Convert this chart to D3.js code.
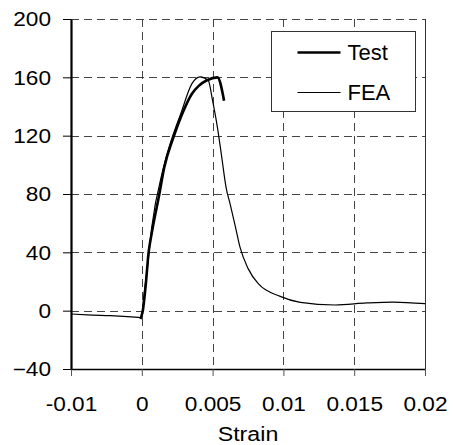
<!DOCTYPE html>
<html lang="en">
<head>
  <meta charset="utf-8">
  <title>Strain chart</title>
  <style>
    body { margin: 0; background: #fff; }
    text { font-family: "Liberation Sans", Arial, sans-serif; fill: #000; }
  </style>
</head>
<body>
  <script src="https://cdnjs.cloudflare.com/ajax/libs/d3/7.8.5/d3.min.js"></script>
  <script type="text/javascript">
  // data: [strain, value]
  const testData = [
    [-0.0001, -5.7], [0.00007, 0], [0.0003, 20], [0.00047, 39], [0.0007, 53],
    [0.00124, 80], [0.00158, 98], [0.00224, 119], [0.00294, 137], [0.00353, 148.6],
    [0.004, 154], [0.0046, 158], [0.00534, 160], [0.00581, 144]
  ];
  const feaData = [
    [-0.005, -2.3], [-0.0035, -3.0], [-0.00224, -3.4], [-0.00024, -4.6],
    [0.00002, -4.8], [0.0001, 5], [0.0004, 30], [0.0007, 57], [0.00153, 98],
    [0.00282, 137], [0.00353, 155.5], [0.00412, 160.3], [0.0047, 157.7], [0.005, 144],
    [0.00534, 125.7], [0.00565, 105], [0.00595, 84.6], [0.00624, 73], [0.0066, 58],
    [0.00694, 43.4], [0.0075, 29], [0.00824, 18.3], [0.00977, 9.8], [0.0112, 5.7],
    [0.01365, 3.9], [0.01589, 5.3], [0.01777, 5.9], [0.02, 4.8]
  ];
  // ticks are evenly spaced; the first one is printed as "-0.01" in the picture
  const xTicks = [-0.005, 0, 0.005, 0.01, 0.015, 0.02];
  const xTickLabels = ["-0.01", "0", "0.005", "0.01", "0.015", "0.02"];
  const yTicks = [-40, 0, 40, 80, 120, 160, 200];
  const seriesNames = ["Test", "FEA"];

  const margin = { top: 19, right: 28, bottom: 76, left: 71 };
  const W = 453, H = 445;
  const width = W - margin.left - margin.right;
  const height = H - margin.top - margin.bottom;
  const stretch = 1.16; // tick labels are drawn a bit wide

  const svg = d3.select("body").append("svg")
    .attr("width", W)
    .attr("height", H);

  const g = svg.append("g")
    .attr("transform", `translate(${margin.left},${margin.top})`);

  const x = d3.scaleLinear().domain([-0.005, 0.02]).range([0, width]);
  const y = d3.scaleLinear().domain([-40, 200]).range([height, 0]);

  // dashed grid
  g.append("g").selectAll("line")
    .data(xTicks.slice(1, -1))
    .join("line")
    .attr("x1", d => Math.round(x(d)) + 0.5).attr("x2", d => Math.round(x(d)) + 0.5)
    .attr("y1", 0).attr("y2", height)
    .attr("stroke", "#444").attr("stroke-dasharray", "8,5");

  g.append("g").selectAll("line")
    .data(yTicks.slice(1))
    .join("line")
    .attr("x1", 0).attr("x2", width)
    .attr("y1", d => Math.round(y(d)) + 0.5).attr("y2", d => Math.round(y(d)) + 0.5)
    .attr("stroke", "#444").attr("stroke-dasharray", "8,5");

  // right border
  g.append("line")
    .attr("x1", width + 0.5).attr("x2", width + 0.5)
    .attr("y1", 0).attr("y2", height)
    .attr("stroke", "#333");

  // axes
  const xAxis = g.append("g")
    .attr("transform", `translate(0,${height})`)
    .call(d3.axisBottom(x).tickValues(xTicks).tickFormat((d, i) => xTickLabels[i]).tickSize(7).tickSizeOuter(0));
  xAxis.select(".domain").attr("stroke", "#000").attr("stroke-width", 1.3);
  xAxis.selectAll(".tick line").attr("stroke", "#555");
  xAxis.selectAll(".tick text")
    .attr("y", 0).attr("dy", 0)
    .attr("transform", `translate(0,42) scale(${stretch},1)`)
    .attr("font-size", 19.5)
    .attr("font-family", "Liberation Sans, Arial, sans-serif");

  const yAxis = g.append("g")
    .call(d3.axisLeft(y).tickValues(yTicks).tickSize(8).tickSizeOuter(0));
  yAxis.select(".domain").attr("stroke", "#000").attr("stroke-width", 2.2);
  yAxis.selectAll(".tick line").attr("stroke", "#000");
  yAxis.selectAll(".tick text")
    .attr("x", 0).attr("dy", "0.35em")
    .attr("transform", `translate(-20,0) scale(${stretch},1)`)
    .attr("font-size", 19.5)
    .attr("font-family", "Liberation Sans, Arial, sans-serif");

  svg.append("text")
    .attr("transform", `translate(${margin.left + width / 2},441) scale(${stretch},1)`)
    .attr("text-anchor", "middle")
    .attr("font-size", 20)
    .text("Strain");

  // curves
  const line = d3.line()
    .x(d => x(d[0]))
    .y(d => y(d[1]))
    .curve(d3.curveMonotoneX);

  g.append("path")
    .datum(feaData)
    .attr("d", line)
    .attr("fill", "none")
    .attr("stroke", "#000")
    .attr("stroke-width", 1.2);

  g.append("path")
    .datum(testData)
    .attr("d", line)
    .attr("fill", "none")
    .attr("stroke", "#000")
    .attr("stroke-width", 2.6)
    .attr("stroke-linejoin", "round");

  // legend
  const legend = svg.append("g").attr("transform", "translate(271.5,31.5)");
  legend.append("rect")
    .attr("width", 144).attr("height", 80)
    .attr("fill", "#fff").attr("stroke", "#333");
  const items = legend.selectAll("g.item")
    .data(seriesNames)
    .join("g")
    .attr("class", "item")
    .attr("transform", (d, i) => `translate(0,${i === 0 ? 21 : 61})`);
  items.append("line")
    .attr("x1", 26).attr("x2", 69)
    .attr("stroke", "#000")
    .attr("stroke-width", (d, i) => i === 0 ? 2.6 : 1.2);
  items.append("text")
    .attr("x", 76).attr("y", 7.5)
    .attr("font-size", 22)
    .text(d => d);
  </script>
</body>
</html>
